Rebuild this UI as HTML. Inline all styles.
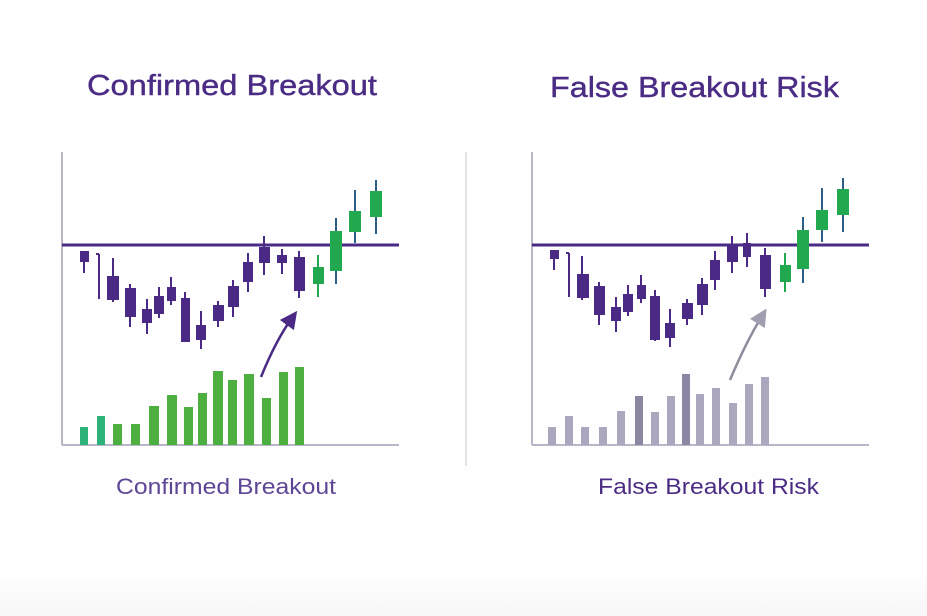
<!DOCTYPE html>
<html><head><meta charset="utf-8"><style>
html,body{margin:0;padding:0;background:#fff;}
svg{display:block;}
</style></head><body>
<svg width="927" height="616" viewBox="0 0 927 616" xmlns="http://www.w3.org/2000/svg">
<defs>
<linearGradient id="bg" x1="0" y1="0" x2="0" y2="1">
<stop offset="0" stop-color="#ffffff"/><stop offset="0.93" stop-color="#fefefe"/><stop offset="1" stop-color="#f7f7f8"/>
</linearGradient>
<marker id="ahP" viewBox="0 0 10 10" refX="5" refY="5" markerWidth="7" markerHeight="7" orient="auto"><path d="M0,0 L10,5 L0,10 z" fill="#4a2a85"/></marker>
<marker id="ahG" viewBox="0 0 10 10" refX="5" refY="5" markerWidth="7" markerHeight="7" orient="auto"><path d="M0,0 L10,5 L0,10 z" fill="#a19eb0"/></marker>
</defs>
<rect width="927" height="616" fill="url(#bg)"/>
<g font-family="Liberation Sans, sans-serif">
<text x="87" y="95" font-size="29" fill="#4b2c85" stroke="#4b2c85" stroke-width="0.4" textLength="290" lengthAdjust="spacingAndGlyphs">Confirmed Breakout</text>
<text x="550" y="97" font-size="29" fill="#4b2c85" stroke="#4b2c85" stroke-width="0.4" textLength="289" lengthAdjust="spacingAndGlyphs">False Breakout Risk</text>
<text x="116" y="494" font-size="22" fill="#5e4696" textLength="220" lengthAdjust="spacingAndGlyphs">Confirmed Breakout</text>
<text x="598" y="494" font-size="22" fill="#4b2c85" textLength="221" lengthAdjust="spacingAndGlyphs">False Breakout Risk</text>
</g>
<line x1="466" y1="152" x2="466" y2="466" stroke="#c8c6d0" stroke-width="1"/>

<!-- LEFT CHART -->
<g>
<line x1="62" y1="152" x2="62" y2="445" stroke="#b9b6c8" stroke-width="2"/>
<line x1="62" y1="445" x2="399" y2="445" stroke="#b9b6c8" stroke-width="2"/>
<g fill="#4caf3f">
<rect x="80" y="427" width="8" height="18" fill="#2db37a"/>
<rect x="97" y="416" width="8" height="29" fill="#2db37a"/>
<rect x="113" y="424" width="9" height="21"/>
<rect x="131" y="424" width="9" height="21"/>
<rect x="149" y="406" width="10" height="39"/>
<rect x="167" y="395" width="10" height="50"/>
<rect x="184" y="407" width="9" height="38"/>
<rect x="198" y="393" width="9" height="52"/>
<rect x="213" y="371" width="10" height="74"/>
<rect x="228" y="380" width="9" height="65"/>
<rect x="244" y="374" width="10" height="71"/>
<rect x="262" y="398" width="9" height="47"/>
<rect x="279" y="372" width="9" height="73"/>
<rect x="295" y="367" width="9" height="78"/>
</g>
<line x1="62" y1="245" x2="399" y2="245" stroke="#4a2a85" stroke-width="3"/>
<g stroke="#4a2a85" stroke-width="2" fill="#4a2a85">
<line x1="84" y1="251" x2="84" y2="273"/><rect x="80" y="251" width="9" height="11" stroke="none"/>
<line x1="99" y1="254" x2="99" y2="299"/><line x1="96" y1="254" x2="99" y2="254"/>
<line x1="113" y1="258" x2="113" y2="302"/><rect x="107" y="276" width="12" height="24" stroke="none"/>
<line x1="130" y1="284" x2="130" y2="327"/><rect x="125" y="288" width="11" height="29" stroke="none"/>
<line x1="147" y1="299" x2="147" y2="334"/><rect x="142" y="309" width="10" height="14" stroke="none"/>
<line x1="159" y1="287" x2="159" y2="318"/><rect x="154" y="296" width="10" height="18" stroke="none"/>
<line x1="171" y1="277" x2="171" y2="305"/><rect x="167" y="287" width="9" height="14" stroke="none"/>
<line x1="185" y1="292" x2="185" y2="342"/><rect x="181" y="298" width="9" height="44" stroke="none"/>
<line x1="201" y1="311" x2="201" y2="349"/><rect x="196" y="325" width="10" height="15" stroke="none"/>
<line x1="218" y1="301" x2="218" y2="327"/><rect x="213" y="305" width="11" height="16" stroke="none"/>
<line x1="233" y1="280" x2="233" y2="317"/><rect x="228" y="286" width="11" height="21" stroke="none"/>
<line x1="248" y1="253" x2="248" y2="292"/><rect x="243" y="262" width="10" height="20" stroke="none"/>
<line x1="264" y1="236" x2="264" y2="275"/><rect x="259" y="247" width="11" height="16" stroke="none"/>
<line x1="282" y1="249" x2="282" y2="274"/><rect x="277" y="255" width="10" height="8" stroke="none"/>
<line x1="299" y1="251" x2="299" y2="298"/><rect x="294" y="257" width="11" height="34" stroke="none"/>
</g>
<g stroke="#22a84f" stroke-width="2" fill="#22a84f">
<line x1="318" y1="255" x2="318" y2="297"/><rect x="313" y="267" width="11" height="17" stroke="none"/>
<line x1="336" y1="218" x2="336" y2="284" stroke="#2b5f8a"/><rect x="330" y="231" width="12" height="40" stroke="none"/>
<line x1="355" y1="190" x2="355" y2="243" stroke="#2b5f8a"/><rect x="349" y="211" width="12" height="21" stroke="none"/>
<line x1="376" y1="180" x2="376" y2="234" stroke="#2b5f8a"/><rect x="370" y="191" width="12" height="26" stroke="none"/>
</g>
<path d="M261,377 Q276,340 292,318" fill="none" stroke="#4a2a85" stroke-width="2.5" marker-end="url(#ahP)"/>
</g>

<!-- RIGHT CHART -->
<g>
<line x1="532" y1="152" x2="532" y2="445" stroke="#b9b6c8" stroke-width="2"/>
<line x1="532" y1="445" x2="869" y2="445" stroke="#b9b6c8" stroke-width="2"/>
<g fill="#aba7bf">
<rect x="548" y="427" width="8" height="18"/>
<rect x="565" y="416" width="8" height="29"/>
<rect x="581" y="427" width="8" height="18"/>
<rect x="599" y="427" width="8" height="18"/>
<rect x="617" y="411" width="8" height="34"/>
<rect x="635" y="396" width="8" height="49" fill="#8b86a1"/>
<rect x="651" y="412" width="8" height="33"/>
<rect x="667" y="396" width="8" height="49"/>
<rect x="682" y="374" width="8" height="71" fill="#8b86a1"/>
<rect x="696" y="394" width="8" height="51"/>
<rect x="712" y="388" width="8" height="57"/>
<rect x="729" y="403" width="8" height="42"/>
<rect x="745" y="384" width="8" height="61"/>
<rect x="761" y="377" width="8" height="68"/>
</g>
<line x1="532" y1="245" x2="869" y2="245" stroke="#4a2a85" stroke-width="3"/>
<g stroke="#4a2a85" stroke-width="2" fill="#4a2a85">
<line x1="554" y1="250" x2="554" y2="270"/><rect x="550" y="250" width="9" height="9" stroke="none"/>
<line x1="569" y1="253" x2="569" y2="297"/><line x1="566" y1="253" x2="569" y2="253"/>
<line x1="582" y1="256" x2="582" y2="300"/><rect x="577" y="274" width="12" height="24" stroke="none"/>
<line x1="599" y1="282" x2="599" y2="325"/><rect x="594" y="286" width="11" height="29" stroke="none"/>
<line x1="616" y1="297" x2="616" y2="332"/><rect x="611" y="307" width="10" height="14" stroke="none"/>
<line x1="628" y1="285" x2="628" y2="316"/><rect x="623" y="294" width="10" height="18" stroke="none"/>
<line x1="641" y1="275" x2="641" y2="303"/><rect x="637" y="285" width="9" height="14" stroke="none"/>
<line x1="655" y1="290" x2="655" y2="341"/><rect x="650" y="296" width="10" height="44" stroke="none"/>
<line x1="670" y1="309" x2="670" y2="347"/><rect x="665" y="323" width="10" height="15" stroke="none"/>
<line x1="687" y1="299" x2="687" y2="325"/><rect x="682" y="303" width="11" height="16" stroke="none"/>
<line x1="702" y1="278" x2="702" y2="315"/><rect x="697" y="284" width="11" height="21" stroke="none"/>
<line x1="715" y1="251" x2="715" y2="290"/><rect x="710" y="260" width="10" height="20" stroke="none"/>
<line x1="732" y1="236" x2="732" y2="273"/><rect x="727" y="246" width="11" height="16" stroke="none"/>
<line x1="747" y1="233" x2="747" y2="267"/><rect x="743" y="243" width="8" height="14" stroke="none"/>
<line x1="765" y1="248" x2="765" y2="297"/><rect x="760" y="255" width="11" height="34" stroke="none"/>
</g>
<g stroke="#22a84f" stroke-width="2" fill="#22a84f">
<line x1="785" y1="253" x2="785" y2="292"/><rect x="780" y="265" width="11" height="17" stroke="none"/>
<line x1="803" y1="217" x2="803" y2="283" stroke="#2b5f8a"/><rect x="797" y="230" width="12" height="39" stroke="none"/>
<line x1="822" y1="188" x2="822" y2="242" stroke="#2b5f8a"/><rect x="816" y="210" width="12" height="20" stroke="none"/>
<line x1="843" y1="178" x2="843" y2="232" stroke="#2b5f8a"/><rect x="837" y="189" width="12" height="26" stroke="none"/>
</g>
<path d="M730,380 Q746,342 762,316" fill="none" stroke="#8e8b9c" stroke-width="2.5" marker-end="url(#ahG)"/>
</g>
</svg>
</body></html>
